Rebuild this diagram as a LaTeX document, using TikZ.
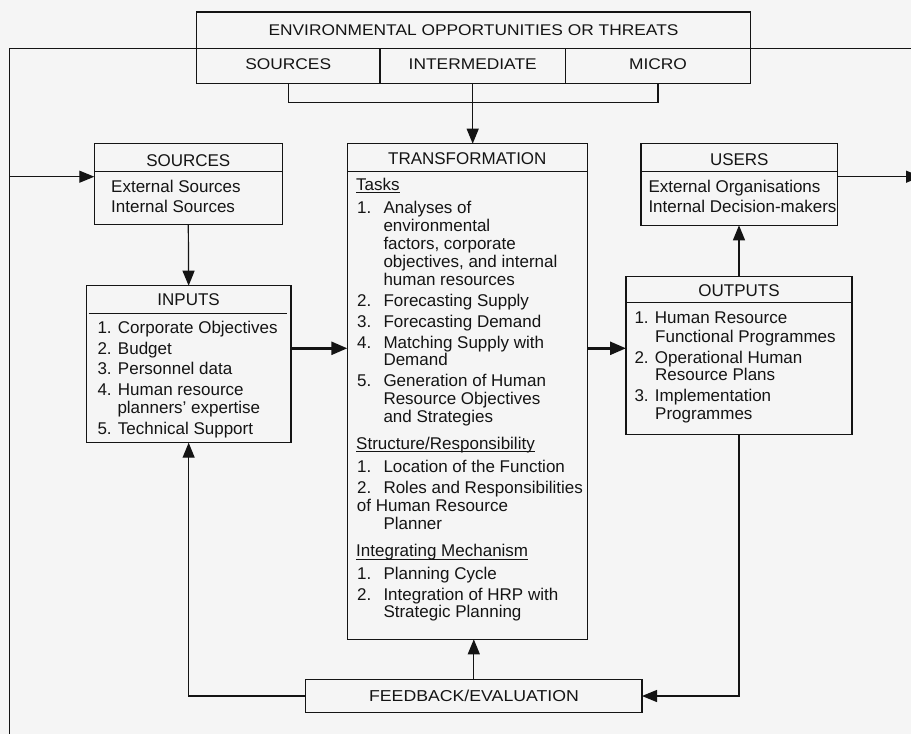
\documentclass[tikz,border=0pt]{standalone}
\usepackage{fontspec}
\setmainfont{Liberation Sans}
\newfontfamily\widefont[FakeStretch=1.12]{Liberation Sans}
\usetikzlibrary{arrows.meta,fit}
\definecolor{paper}{RGB}{245,245,245}
\definecolor{ink}{RGB}{20,20,20}
% fixed-width slot for list numbers
\newcommand{\num}[1]{\makebox[26.3pt][l]{#1}}
\tikzset{
  box/.style={draw=ink, line width=1.2pt, inner sep=0pt, outer sep=0pt, rectangle},
  txt/.style={anchor=base west, inner sep=0pt, text=ink, font=\fontsize{17}{20}\selectfont},
  ttl/.style={anchor=base, inner sep=0pt, text=ink, font=\fontsize{17}{20}\selectfont},
  wide/.style={anchor=base, inner sep=0pt, text=ink, font=\widefont\fontsize{15.5}{18}\selectfont},
  widefb/.style={anchor=base, inner sep=0pt, text=ink, font=\widefont\fontsize{15.8}{18}\selectfont},
  link/.style={draw=ink, line width=1.2pt},
  arr/.style={link, -{Triangle[length=15pt,width=12pt]}},
  bigarr/.style={draw=ink, line width=2.6pt, -{Triangle[length=16pt,width=13pt]}},
  rule/.style={draw=ink, line width=1.2pt},
  uline/.style={draw=ink, line width=1pt},
}
\begin{document}
\begin{tikzpicture}[x=1pt,y=-1pt]
\useasboundingbox[fill=paper] (0,0) rectangle (911,734);
\clip (0,0) rectangle (911,734);

% ---- environment box
\node[box, fit={(196.4,12) (750.7,48.7)}] (envT) {};
\node[box, fit={(196.4,48.7) (380,83.3)}] (envA) {};
\node[box, fit={(380,48.7) (565.4,83.3)}] (envB) {};
\node[box, fit={(565.4,48.7) (750.7,83.3)}] (envC) {};
\node[wide] (envTt) at (473.5,35) {ENVIRONMENTAL OPPORTUNITIES OR THREATS};
\node[wide] (envAt) at (288.2,69) {SOURCES};
\node[wide] (envBt) at (472.7,69) {INTERMEDIATE};
\node[wide] (envCt) at (658,69) {MICRO};

% ---- main boxes
\node[box, fit={(94.3,143.7) (282.3,224.7)}] (src) {};
\node[box, fit={(86.3,285.7) (291,442.7)}] (inp) {};
\node[box, fit={(347.3,143.7) (587.3,639.3)}] (trf) {};
\node[box, fit={(641,143.7) (837.7,225.3)}] (usr) {};
\node[box, fit={(626,276.7) (852,434.3)}] (out) {};
\node[box, fit={(305.6,679.3) (642,712.7)}] (fb) {};
\node[widefb] (fbt) at (474,701.7) {FEEDBACK/EVALUATION};

% ---- header rules
\draw[rule] ([yshift=-28pt]src.north west) -- ([yshift=-28pt]src.north east);
\draw[rule] ([shift={(2.4pt,-27.6pt)}]inp.north west) -- ([shift={(-3.7pt,-27.6pt)}]inp.north east);
\draw[rule] ([yshift=-28pt]trf.north west) -- ([yshift=-28pt]trf.north east);
\draw[rule] ([yshift=-28pt]usr.north west) -- ([yshift=-28pt]usr.north east);
\draw[rule] ([yshift=-26pt]out.north west) -- ([yshift=-26pt]out.north east);

% ---- SOURCES
\node[ttl] (srcT) at (188.3,166) {SOURCES};
\node[txt] (src1) at (111,192.7) {External Sources};
\node[txt] (src2) at (111,212.7) {Internal Sources};

% ---- USERS
\node[ttl] (usrT) at (739.3,165) {USERS};
\node[txt] (usr1) at (648.3,192.3) {External Organisations};
\node[txt] (usr2) at (648.3,212.7) {Internal Decision-makers};

% ---- INPUTS
\node[ttl] (inpT) at (188.65,305.7) {INPUTS};
\foreach \x/\y/\t [count=\i] in {
  97.3/333.3/{1. Corporate Objectives},
  97.3/354/{2. Budget},
  97.3/374.3/{3. Personnel data},
  97.3/395/{4. Human resource},
  117.3/413.3/{planners’ expertise},
  97.3/434/{5. Technical Support}}
  \node[txt] (inp-\i) at (\x,\y) {\t};

% ---- OUTPUTS
\node[ttl] (outT) at (739,296.7) {OUTPUTS};
\foreach \x/\y/\t [count=\i] in {
  634.3/323.3/{1. Human Resource},
  655/342.3/{Functional Programmes},
  634.3/363.3/{2. Operational Human},
  655/380.7/{Resource Plans},
  634.3/401.7/{3. Implementation},
  655/419.3/{Programmes}}
  \node[txt] (out-\i) at (\x,\y) {\t};

% ---- TRANSFORMATION
\node[ttl] (trfT) at (467.3,164.3) {TRANSFORMATION};
\node[txt] (hTasks) at (356,190) {Tasks};
\node[txt] (hStruct) at (356,449) {Structure/Responsibility};
\node[txt] (hInteg) at (356,556.7) {Integrating Mechanism};
\foreach \h in {hTasks,hStruct,hInteg}
  \draw[uline] ([yshift=-2.7pt]\h.base west) -- ([yshift=-2.7pt]\h.base east);
\foreach \x/\y/\t [count=\i] in {
  357/213.3/{\num{1.}Analyses of},
  383.3/231.7/{environmental},
  383.3/249.3/{factors, corporate},
  383.3/267.7/{objectives, and internal},
  383.3/285.3/{human resources},
  357/306.7/{\num{2.}Forecasting Supply},
  357/327.3/{\num{3.}Forecasting Demand},
  357/348.3/{\num{4.}Matching Supply with},
  383.3/365.7/{Demand},
  357/386.7/{\num{5.}Generation of Human},
  383.3/404.3/{Resource Objectives},
  383.3/422/{and Strategies},
  357/472.7/{\num{1.}Location of the Function},
  357/493.3/{\num{2.}Roles and Responsibilities},
  356.7/511.7/{of Human Resource},
  383.3/529/{Planner},
  357/579/{\num{1.}Planning Cycle},
  357/600/{\num{2.}Integration of HRP with},
  383.3/617.7/{Strategic Planning}}
  \node[txt] (trf-\i) at (\x,\y) {\t};

% ---- connectors
\coordinate (brk) at (472,102.7);
\coordinate (mid) at (0,348.3);
\coordinate (lefttop) at (9.3,48.7);
\coordinate (leftbot) at (9.3,740);
\coordinate (righttop) at (915,48.7);
\coordinate (srcin) at (9.3,176.7);
\coordinate (usrout) at (921,176.7);

\draw[link] (envA.south) |- (brk) -| (envC.south);
\draw[arr] (envB.south) -- (envB.south |- trf.north);
\draw[link] (envT.south west) -- (lefttop) -- (leftbot);
\draw[link] (envT.south east) -- (righttop);
\draw[arr] (srcin) -- (srcin -| src.west);
\draw[arr] (usrout -| usr.east) -- (usrout);
\draw[arr] (src.south) -- (inp.north);
\draw[bigarr] (inp.east |- mid) -- (trf.west |- mid);
\draw[bigarr] (trf.east |- mid) -- (out.west |- mid);
\draw[arr] (out.north) -- (out.north |- usr.south);
\draw[arr] (out.south) |- (fb.east);
\draw[arr] (fb.north) -- (fb.north |- trf.south);
\draw[arr] (fb.west) -| (inp.south);
\end{tikzpicture}
\end{document}
